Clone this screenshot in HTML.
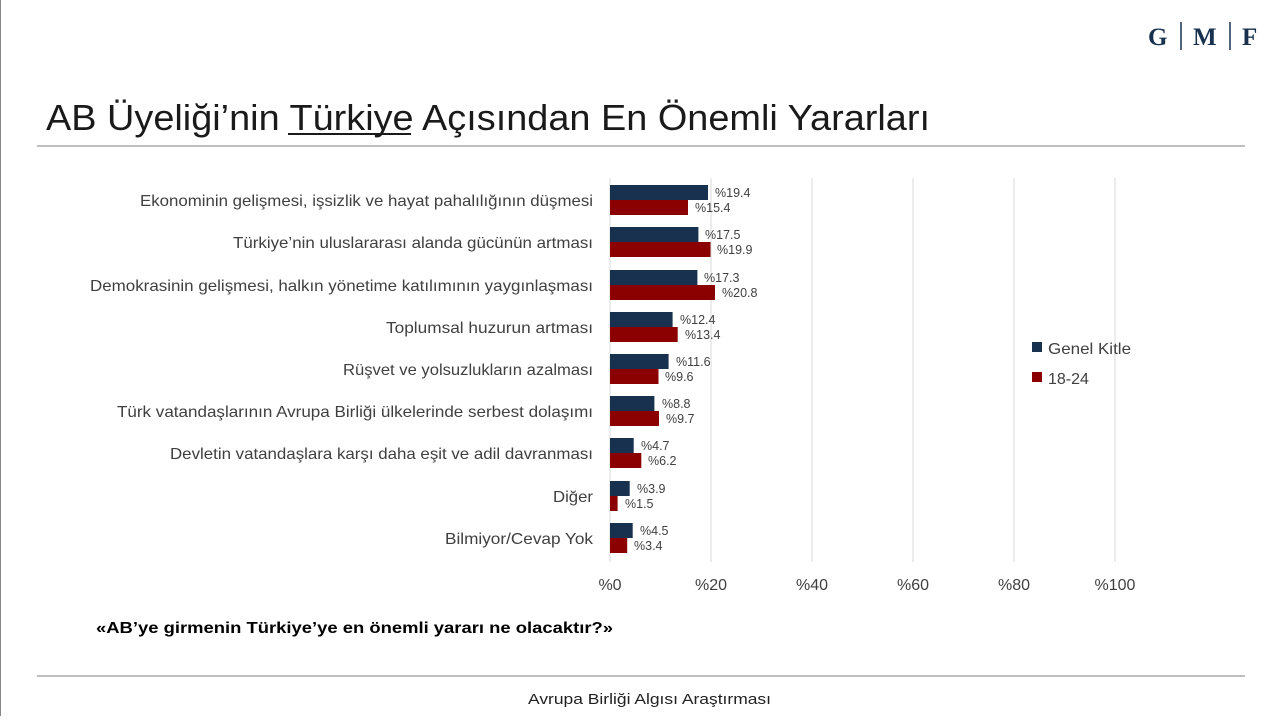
<!DOCTYPE html>
<html><head><meta charset="utf-8"><style>
body{margin:0;width:1273px;height:716px;background:#fff;overflow:hidden;font-family:"Liberation Sans",sans-serif;}
</style></head><body>
<svg width="1273" height="716" xmlns="http://www.w3.org/2000/svg" font-family="Liberation Sans, sans-serif">
<line x1="0.5" y1="0" x2="0.5" y2="716" stroke="#888" stroke-width="1"/>
<text x="1148" y="45" font-family="Liberation Serif, serif" font-weight="bold" font-size="25" fill="#17314f">G</text>
<line x1="1181" y1="22" x2="1181" y2="50" stroke="#17314f" stroke-width="1.5"/>
<text x="1193" y="45" font-family="Liberation Serif, serif" font-weight="bold" font-size="25" fill="#17314f">M</text>
<line x1="1230" y1="22" x2="1230" y2="50" stroke="#17314f" stroke-width="1.5"/>
<text x="1242" y="45" font-family="Liberation Serif, serif" font-weight="bold" font-size="25" fill="#17314f">F</text>
<text x="46" y="130" font-size="36" fill="#1a1a1a" textLength="884" lengthAdjust="spacingAndGlyphs">AB Üyeliği’nin Türkiye Açısından En Önemli Yararları</text>
<line x1="288" y1="134" x2="411" y2="134" stroke="#1a1a1a" stroke-width="2"/>
<line x1="37" y1="146" x2="1245" y2="146" stroke="#aaa" stroke-width="1.5"/>
<g stroke="#d9d9d9" stroke-width="1">
<line x1="610" y1="178" x2="610" y2="562"/><line x1="711" y1="178" x2="711" y2="562"/><line x1="812" y1="178" x2="812" y2="562"/><line x1="913" y1="178" x2="913" y2="562"/><line x1="1014" y1="178" x2="1014" y2="562"/><line x1="1115" y1="178" x2="1115" y2="562"/>
</g>
<g font-size="16" fill="#404040" text-anchor="middle">
<text x="610" y="590">%0</text><text x="711" y="590">%20</text><text x="812" y="590">%40</text><text x="913" y="590">%60</text><text x="1014" y="590">%80</text><text x="1115" y="590">%100</text>
</g>
<g font-size="16" fill="#404040">
<text x="140" y="206" textLength="453" lengthAdjust="spacingAndGlyphs">Ekonominin gelişmesi, işsizlik ve hayat pahalılığının düşmesi</text>
<text x="233" y="248" textLength="360" lengthAdjust="spacingAndGlyphs">Türkiye’nin uluslararası alanda gücünün artması</text>
<text x="90" y="291" textLength="503" lengthAdjust="spacingAndGlyphs">Demokrasinin gelişmesi, halkın yönetime katılımının yaygınlaşması</text>
<text x="386" y="333" textLength="207" lengthAdjust="spacingAndGlyphs">Toplumsal huzurun artması</text>
<text x="343" y="375" textLength="250" lengthAdjust="spacingAndGlyphs">Rüşvet ve yolsuzlukların azalması</text>
<text x="117" y="417" textLength="476" lengthAdjust="spacingAndGlyphs">Türk vatandaşlarının Avrupa Birliği ülkelerinde serbest dolaşımı</text>
<text x="170" y="459" textLength="423" lengthAdjust="spacingAndGlyphs">Devletin vatandaşlara karşı daha eşit ve adil davranması</text>
<text x="553" y="502" textLength="40" lengthAdjust="spacingAndGlyphs">Diğer</text>
<text x="445" y="544" textLength="148" lengthAdjust="spacingAndGlyphs">Bilmiyor/Cevap Yok</text>
</g>
<g font-size="12.5" fill="#404040">
<rect x="610" y="185" width="98" height="15" fill="#17314f"/><rect x="610" y="200" width="78" height="15" fill="#8b0000"/>
<text x="715" y="197">%19.4</text><text x="695" y="212">%15.4</text>
<rect x="610" y="227" width="88.4" height="15" fill="#17314f"/><rect x="610" y="242" width="100.5" height="15" fill="#8b0000"/>
<text x="705" y="239">%17.5</text><text x="717" y="254">%19.9</text>
<rect x="610" y="270" width="87.4" height="15" fill="#17314f"/><rect x="610" y="285" width="105" height="15" fill="#8b0000"/>
<text x="704" y="282">%17.3</text><text x="722" y="297">%20.8</text>
<rect x="610" y="312" width="62.6" height="15" fill="#17314f"/><rect x="610" y="327" width="67.7" height="15" fill="#8b0000"/>
<text x="680" y="324">%12.4</text><text x="685" y="339">%13.4</text>
<rect x="610" y="354" width="58.6" height="15" fill="#17314f"/><rect x="610" y="369" width="48.5" height="15" fill="#8b0000"/>
<text x="676" y="366">%11.6</text><text x="665" y="381">%9.6</text>
<rect x="610" y="396" width="44.4" height="15" fill="#17314f"/><rect x="610" y="411" width="49" height="15" fill="#8b0000"/>
<text x="662" y="408">%8.8</text><text x="666" y="423">%9.7</text>
<rect x="610" y="438" width="23.7" height="15" fill="#17314f"/><rect x="610" y="453" width="31.3" height="15" fill="#8b0000"/>
<text x="641" y="450">%4.7</text><text x="648" y="465">%6.2</text>
<rect x="610" y="481" width="19.7" height="15" fill="#17314f"/><rect x="610" y="496" width="7.6" height="15" fill="#8b0000"/>
<text x="637" y="493">%3.9</text><text x="625" y="508">%1.5</text>
<rect x="610" y="523" width="22.7" height="15" fill="#17314f"/><rect x="610" y="538" width="17.2" height="15" fill="#8b0000"/>
<text x="640" y="535">%4.5</text><text x="634" y="550">%3.4</text>
</g>
<rect x="1032" y="342" width="10" height="10" fill="#17314f"/>
<text x="1048" y="354" font-size="16" fill="#404040" textLength="83" lengthAdjust="spacingAndGlyphs">Genel Kitle</text>
<rect x="1032" y="372" width="10" height="10" fill="#8b0000"/>
<text x="1048" y="384" font-size="16" fill="#404040">18-24</text>
<text x="96" y="633" font-size="16" font-weight="bold" fill="#000" textLength="517" lengthAdjust="spacingAndGlyphs">«AB’ye girmenin Türkiye’ye en önemli yararı ne olacaktır?»</text>
<line x1="37" y1="676" x2="1245" y2="676" stroke="#aaa" stroke-width="1.5"/>
<text x="528" y="704" font-size="15" fill="#222" textLength="243" lengthAdjust="spacingAndGlyphs">Avrupa Birliği Algısı Araştırması</text>
</svg>
</body></html>
